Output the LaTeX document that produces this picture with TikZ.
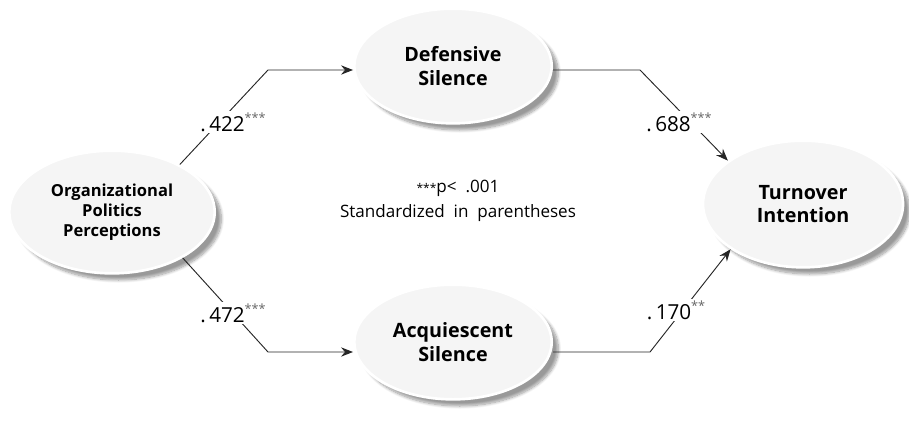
\documentclass[tikz,border=0pt]{standalone}
\usepackage{fontspec}
\setmainfont{Open Sans}
\usepackage{tikz}
\usetikzlibrary{arrows.meta, positioning, shapes.geometric, shadows.blur}

\newcommand{\sig}[1]{\raisebox{0.45em}{\color{black!60}\fontsize{9.5}{10}\selectfont #1}}

\begin{document}
\begin{tikzpicture}[
                x=0.75pt, y=-0.75pt,
                latent/.style={ellipse, fill=black!4, draw=white, line width=2pt, font=\bfseries\fontsize{14.8}{17.5}\selectfont, align=center,
                    blur shadow={shadow xshift=5pt, shadow yshift=-5pt, shadow blur steps=10, shadow opacity=40}},
                arrow/.style={-{Stealth[length=9pt, width=7pt, inset=3pt]}},
                link/.style={line width=0.7pt, black!85},
                coef/.style={fill=white, inner sep=1pt, font=\fontsize{15.5}{18}\selectfont}
            ]
            \useasboundingbox (0,0) rectangle (909,428);

            % Constructs
            \node[latent, minimum width=154pt, minimum height=92pt, font=\bfseries\fontsize{12.4}{14.8}\selectfont] (opp) at (112,212) {Organizational\\Politics\\Perceptions};
            \node[latent, minimum width=148pt, minimum height=86pt] (def) at (453,66) {Defensive\\Silence};
            \node[latent, minimum width=148pt, minimum height=86pt] (acq) at (453,342) {Acquiescent\\Silence};
            \node[latent, minimum width=150pt, minimum height=95pt] (ti) at (803,204) {Turnover\\Intention};

            % Bends
            \coordinate (b1) at (268,70);
            \coordinate (b2) at (640,70);
            \coordinate (b3) at (268,352);
            \coordinate (b4) at (650,352);

            % Paths
            \draw[link, arrow] (opp.35) -- (b1) -- (b1 -| def.west);
            \draw[link, arrow] (def.east |- b2) -- (b2) -- (ti.150);
            \draw[link, arrow] (opp.-33) -- (b3) -- (b3 -| acq.west);
            \draw[link, arrow] (acq.east |- b4) -- (b4) -- (ti.212);

            % Coefficients
            \node[coef] (c1) at (233,122) {.\,422\sig{***}};
            \node[coef] (c2) at (679,122) {.\,688\sig{***}};
            \node[coef] (c3) at (233,313) {.\,472\sig{***}};
            \node[coef] (c4) at (676,310) {.\,170\sig{**}};

            % Note
            \node[font=\fontsize{12.8}{19}\selectfont, align=center] (note) at (458,201) {{\fontsize{9}{9}\selectfont ***}p<\ \ .001\\Standardized\ \ in\ \ parentheses};
            \end{tikzpicture}
\end{document}
